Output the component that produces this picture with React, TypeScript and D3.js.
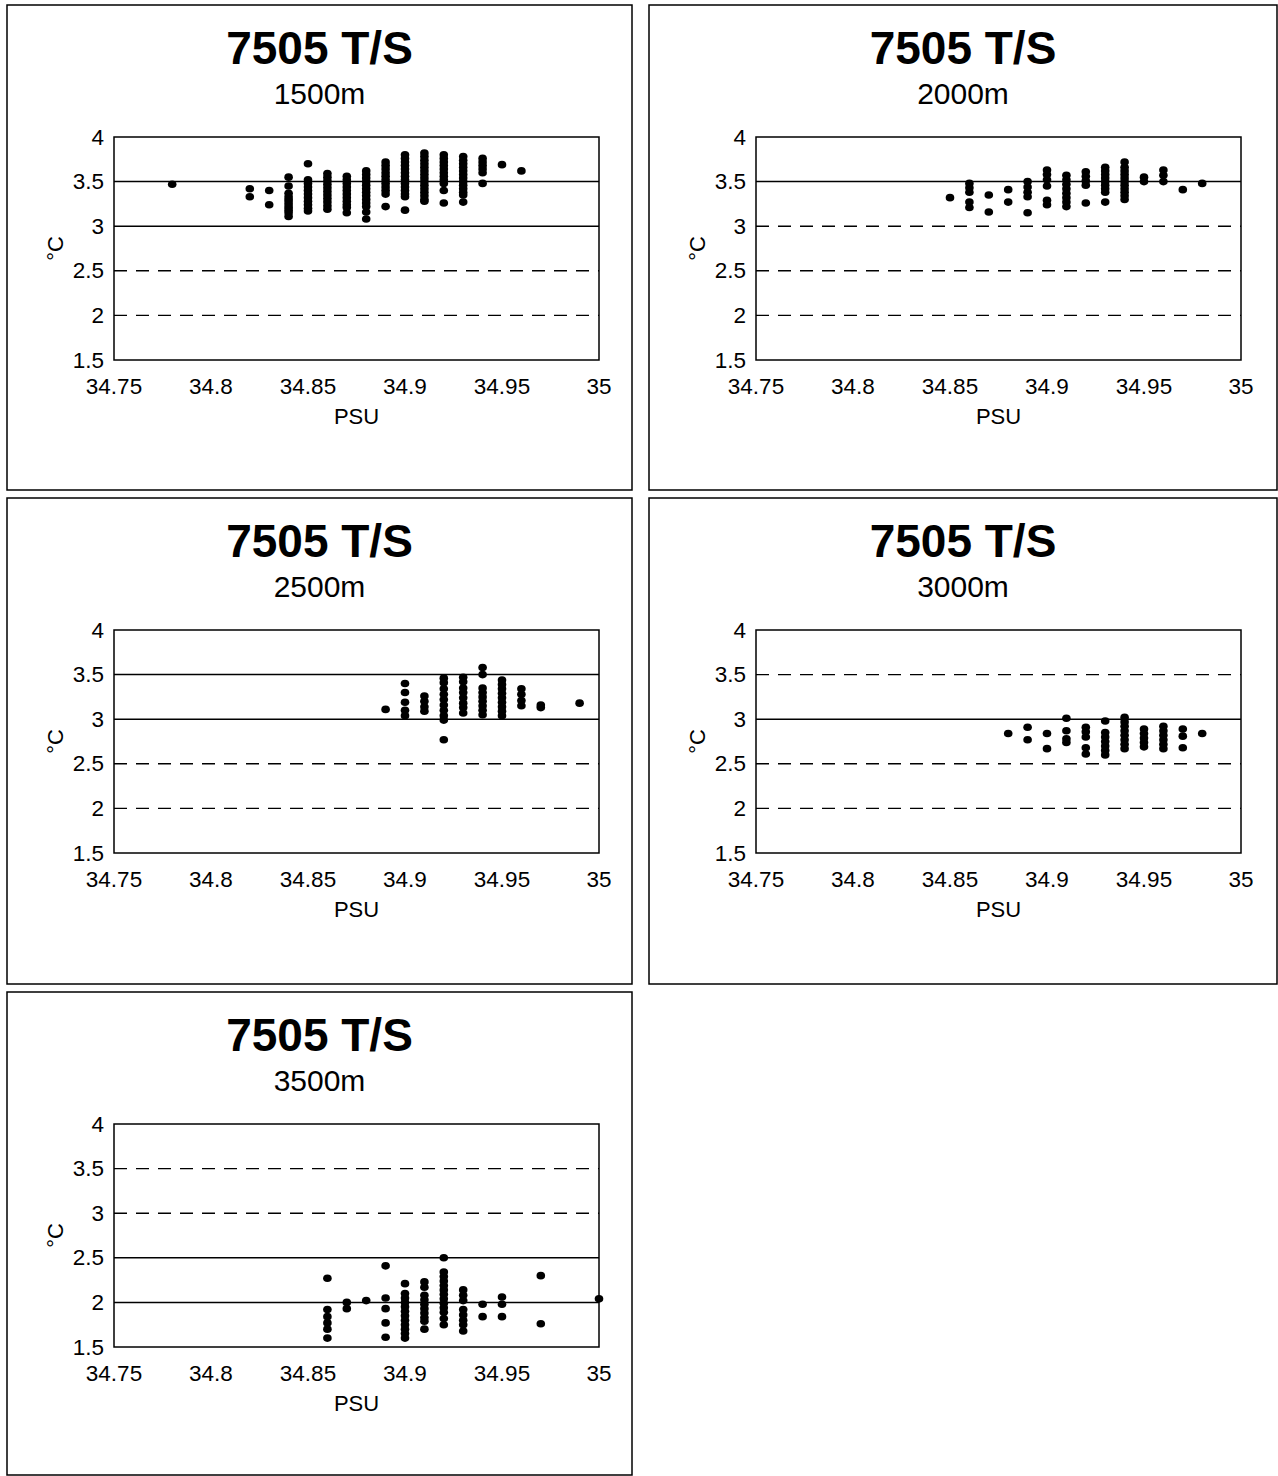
import { useEffect, useRef } from "react";
import * as d3 from "d3";

// Each panel: [salinity PSU, temperature °C] points
const depth1500: [number, number][] = [
  [34.78, 3.47],
  [34.82, 3.42], [34.82, 3.33],
  [34.83, 3.4], [34.83, 3.24],
  [34.84, 3.55], [34.84, 3.45], [34.84, 3.37], [34.84, 3.33], [34.84, 3.3], [34.84, 3.27], [34.84, 3.24], [34.84, 3.21], [34.84, 3.18], [34.84, 3.15], [34.84, 3.11],
  [34.85, 3.7], [34.85, 3.52], [34.85, 3.48], [34.85, 3.44], [34.85, 3.4], [34.85, 3.36], [34.85, 3.32], [34.85, 3.28], [34.85, 3.24], [34.85, 3.2], [34.85, 3.17],
  [34.86, 3.59], [34.86, 3.55], [34.86, 3.51], [34.86, 3.47], [34.86, 3.43], [34.86, 3.39], [34.86, 3.35], [34.86, 3.31], [34.86, 3.27], [34.86, 3.23], [34.86, 3.19],
  [34.87, 3.56], [34.87, 3.52], [34.87, 3.48], [34.87, 3.44], [34.87, 3.4], [34.87, 3.36], [34.87, 3.32], [34.87, 3.28], [34.87, 3.24], [34.87, 3.21], [34.87, 3.15],
  [34.88, 3.62], [34.88, 3.58], [34.88, 3.54], [34.88, 3.5], [34.88, 3.46], [34.88, 3.42], [34.88, 3.38], [34.88, 3.34], [34.88, 3.3], [34.88, 3.26], [34.88, 3.22], [34.88, 3.16], [34.88, 3.08],
  [34.89, 3.72], [34.89, 3.68], [34.89, 3.64], [34.89, 3.6], [34.89, 3.56], [34.89, 3.52], [34.89, 3.48], [34.89, 3.44], [34.89, 3.4], [34.89, 3.36], [34.89, 3.22],
  [34.9, 3.8], [34.9, 3.76], [34.9, 3.72], [34.9, 3.68], [34.9, 3.64], [34.9, 3.6], [34.9, 3.56], [34.9, 3.52], [34.9, 3.48], [34.9, 3.44], [34.9, 3.4], [34.9, 3.36], [34.9, 3.33], [34.9, 3.18],
  [34.91, 3.82], [34.91, 3.78], [34.91, 3.74], [34.91, 3.7], [34.91, 3.66], [34.91, 3.62], [34.91, 3.58], [34.91, 3.54], [34.91, 3.5], [34.91, 3.46], [34.91, 3.42], [34.91, 3.38], [34.91, 3.34], [34.91, 3.3], [34.91, 3.28],
  [34.92, 3.8], [34.92, 3.76], [34.92, 3.72], [34.92, 3.68], [34.92, 3.64], [34.92, 3.6], [34.92, 3.56], [34.92, 3.52], [34.92, 3.48], [34.92, 3.4], [34.92, 3.26],
  [34.93, 3.78], [34.93, 3.74], [34.93, 3.7], [34.93, 3.66], [34.93, 3.62], [34.93, 3.58], [34.93, 3.54], [34.93, 3.5], [34.93, 3.46], [34.93, 3.42], [34.93, 3.38], [34.93, 3.35], [34.93, 3.27],
  [34.94, 3.76], [34.94, 3.72], [34.94, 3.68], [34.94, 3.64], [34.94, 3.6], [34.94, 3.48],
  [34.95, 3.69],
  [34.96, 3.62],
];

const depth2000: [number, number][] = [
  [34.85, 3.32],
  [34.86, 3.48], [34.86, 3.43], [34.86, 3.38], [34.86, 3.27], [34.86, 3.21],
  [34.87, 3.35], [34.87, 3.16],
  [34.88, 3.41], [34.88, 3.27],
  [34.89, 3.5], [34.89, 3.44], [34.89, 3.38], [34.89, 3.33], [34.89, 3.15],
  [34.9, 3.63], [34.9, 3.58], [34.9, 3.52], [34.9, 3.45], [34.9, 3.29], [34.9, 3.24],
  [34.91, 3.57], [34.91, 3.52], [34.91, 3.47], [34.91, 3.42], [34.91, 3.37], [34.91, 3.32], [34.91, 3.27], [34.91, 3.22],
  [34.92, 3.61], [34.92, 3.56], [34.92, 3.51], [34.92, 3.46], [34.92, 3.26],
  [34.93, 3.66], [34.93, 3.62], [34.93, 3.58], [34.93, 3.54], [34.93, 3.5], [34.93, 3.46], [34.93, 3.42], [34.93, 3.38], [34.93, 3.27],
  [34.94, 3.72], [34.94, 3.66], [34.94, 3.62], [34.94, 3.58], [34.94, 3.54], [34.94, 3.5], [34.94, 3.46], [34.94, 3.42], [34.94, 3.38], [34.94, 3.34], [34.94, 3.3],
  [34.95, 3.55], [34.95, 3.5],
  [34.96, 3.63], [34.96, 3.57], [34.96, 3.5],
  [34.97, 3.41],
  [34.98, 3.48],
];

const depth2500: [number, number][] = [
  [34.89, 3.11],
  [34.9, 3.4], [34.9, 3.3], [34.9, 3.19], [34.9, 3.1], [34.9, 3.04],
  [34.91, 3.26], [34.91, 3.2], [34.91, 3.14], [34.91, 3.09],
  [34.92, 3.46], [34.92, 3.41], [34.92, 3.34], [34.92, 3.28], [34.92, 3.22], [34.92, 3.16], [34.92, 3.1], [34.92, 3.04], [34.92, 2.99], [34.92, 2.77],
  [34.93, 3.47], [34.93, 3.42], [34.93, 3.35], [34.93, 3.3], [34.93, 3.24], [34.93, 3.18], [34.93, 3.13], [34.93, 3.07],
  [34.94, 3.58], [34.94, 3.5], [34.94, 3.35], [34.94, 3.3], [34.94, 3.25], [34.94, 3.2], [34.94, 3.15], [34.94, 3.1], [34.94, 3.05],
  [34.95, 3.44], [34.95, 3.39], [34.95, 3.34], [34.95, 3.29], [34.95, 3.24], [34.95, 3.19], [34.95, 3.14], [34.95, 3.09], [34.95, 3.04],
  [34.96, 3.34], [34.96, 3.28], [34.96, 3.21], [34.96, 3.15],
  [34.97, 3.16], [34.97, 3.13],
  [34.99, 3.18],
];

const depth3000: [number, number][] = [
  [34.88, 2.84],
  [34.89, 2.91], [34.89, 2.77],
  [34.9, 2.84], [34.9, 2.67],
  [34.91, 3.01], [34.91, 2.87], [34.91, 2.78], [34.91, 2.74],
  [34.92, 2.91], [34.92, 2.86], [34.92, 2.8], [34.92, 2.68], [34.92, 2.61],
  [34.93, 2.98], [34.93, 2.85], [34.93, 2.8], [34.93, 2.75], [34.93, 2.7], [34.93, 2.65], [34.93, 2.6],
  [34.94, 3.02], [34.94, 2.97], [34.94, 2.92], [34.94, 2.87], [34.94, 2.82], [34.94, 2.77], [34.94, 2.72], [34.94, 2.67],
  [34.95, 2.89], [34.95, 2.84], [34.95, 2.79], [34.95, 2.74], [34.95, 2.69],
  [34.96, 2.92], [34.96, 2.87], [34.96, 2.82], [34.96, 2.77], [34.96, 2.72], [34.96, 2.67],
  [34.97, 2.89], [34.97, 2.81], [34.97, 2.68],
  [34.98, 2.84],
];

const depth3500: [number, number][] = [
  [34.86, 2.27], [34.86, 1.92], [34.86, 1.84], [34.86, 1.77], [34.86, 1.7], [34.86, 1.6],
  [34.87, 2.0], [34.87, 1.93],
  [34.88, 2.02],
  [34.89, 2.41], [34.89, 2.05], [34.89, 1.93], [34.89, 1.77], [34.89, 1.61],
  [34.9, 2.21], [34.9, 2.1], [34.9, 2.05], [34.9, 2.0], [34.9, 1.95], [34.9, 1.9], [34.9, 1.85], [34.9, 1.8], [34.9, 1.75], [34.9, 1.7], [34.9, 1.65], [34.9, 1.6],
  [34.91, 2.23], [34.91, 2.17], [34.91, 2.08], [34.91, 2.03], [34.91, 1.98], [34.91, 1.93], [34.91, 1.88], [34.91, 1.83], [34.91, 1.79], [34.91, 1.7],
  [34.92, 2.5], [34.92, 2.34], [34.92, 2.29], [34.92, 2.24], [34.92, 2.19], [34.92, 2.14], [34.92, 2.09], [34.92, 2.04], [34.92, 1.99], [34.92, 1.94], [34.92, 1.89], [34.92, 1.82], [34.92, 1.75],
  [34.93, 2.14], [34.93, 2.08], [34.93, 2.02], [34.93, 1.92], [34.93, 1.86], [34.93, 1.8], [34.93, 1.75], [34.93, 1.68],
  [34.94, 1.98], [34.94, 1.84],
  [34.95, 2.06], [34.95, 1.98], [34.95, 1.84],
  [34.97, 2.3], [34.97, 1.76],
  [35.0, 2.04],
];

const depthLabels = ["1500m", "2000m", "2500m", "3000m", "3500m"];
const depthData = [depth1500, depth2000, depth2500, depth3000, depth3500];
// gridlines drawn solid in each panel (others dashed)
const solidLevels = [[3.5, 3], [3.5], [3.5, 3], [3], [2.5, 2]];

const xTicks = [34.75, 34.8, 34.85, 34.9, 34.95, 35];
const yTicks = [1.5, 2, 2.5, 3, 3.5, 4];
const gridLevels = [2, 2.5, 3, 3.5];

const W = 1278;
const H = 1476;
const PANEL_POS = [
  { x: 7, y: 5, w: 625, h: 485 },
  { x: 649, y: 5, w: 628, h: 485 },
  { x: 7, y: 498, w: 625, h: 486 },
  { x: 649, y: 498, w: 628, h: 486 },
  { x: 7, y: 992, w: 625, h: 483 },
];
const PLOT = { left: 107, top: 132, width: 485, height: 223 };
const FONT = "'Liberation Sans', Arial, sans-serif";

export default function App() {
  const svgRef = useRef<SVGSVGElement>(null);

  useEffect(() => {
    const svg = d3.select(svgRef.current);
    svg.selectAll("*").remove();

    svg.append("rect").attr("width", W).attr("height", H).attr("fill", "#ffffff");

    const xScale = d3.scaleLinear().domain([34.75, 35]).range([0, PLOT.width]);
    const yScale = d3.scaleLinear().domain([1.5, 4]).range([PLOT.height, 0]);

    depthData.forEach((pts, i) => {
      const p = PANEL_POS[i];
      const panel = svg.append("g").attr("transform", `translate(${p.x},${p.y})`);

      // Panel frame
      panel.append("rect")
        .attr("width", p.w)
        .attr("height", p.h)
        .attr("fill", "none")
        .attr("stroke", "#000")
        .attr("stroke-width", 1.5);

      // Titles
      panel.append("text")
        .attr("x", p.w / 2)
        .attr("y", 59)
        .attr("text-anchor", "middle")
        .attr("font-family", FONT)
        .attr("font-weight", "bold")
        .attr("font-size", "46px")
        .text("7505 T/S");

      panel.append("text")
        .attr("x", p.w / 2)
        .attr("y", 99)
        .attr("text-anchor", "middle")
        .attr("font-family", FONT)
        .attr("font-size", "30px")
        .text(depthLabels[i]);

      const g = panel.append("g").attr("transform", `translate(${PLOT.left},${PLOT.top})`);

      // Gridlines
      gridLevels.forEach((lv) => {
        const solid = solidLevels[i].includes(lv);
        g.append("line")
          .attr("x1", 0)
          .attr("x2", PLOT.width)
          .attr("y1", yScale(lv))
          .attr("y2", yScale(lv))
          .attr("stroke", "#000")
          .attr("stroke-width", solid ? 1.5 : 1.4)
          .attr("stroke-dasharray", solid ? null : "13,9");
      });

      // Plot frame
      g.append("rect")
        .attr("width", PLOT.width)
        .attr("height", PLOT.height)
        .attr("fill", "none")
        .attr("stroke", "#000")
        .attr("stroke-width", 1.5);

      // Points
      g.selectAll("ellipse.pt")
        .data(pts)
        .enter()
        .append("ellipse")
        .attr("class", "pt")
        .attr("cx", (d) => xScale(d[0]))
        .attr("cy", (d) => yScale(d[1]))
        .attr("rx", 4.3)
        .attr("ry", 3.8)
        .attr("fill", "#000");

      // X tick labels
      xTicks.forEach((t) => {
        g.append("text")
          .attr("x", xScale(t))
          .attr("y", PLOT.height + 34)
          .attr("text-anchor", "middle")
          .attr("font-family", FONT)
          .attr("font-size", "22.5px")
          .text(String(t));
      });

      // Y tick labels
      yTicks.forEach((t) => {
        g.append("text")
          .attr("x", -10)
          .attr("y", yScale(t))
          .attr("text-anchor", "end")
          .attr("dominant-baseline", "central")
          .attr("font-family", FONT)
          .attr("font-size", "22.5px")
          .text(String(t));
      });

      g.append("text")
        .attr("x", PLOT.width / 2)
        .attr("y", PLOT.height + 64)
        .attr("text-anchor", "middle")
        .attr("font-family", FONT)
        .attr("font-size", "22px")
        .text("PSU");

      g.append("text")
        .attr("transform", `translate(-59,${PLOT.height / 2}) rotate(-90)`)
        .attr("text-anchor", "middle")
        .attr("dominant-baseline", "central")
        .attr("font-family", FONT)
        .attr("font-size", "22px")
        .text("°C");
    });
  }, []);

  return (
    <svg
      ref={svgRef}
      width={W}
      height={H}
      style={{ position: "absolute", left: 0, top: 0 }}
    />
  );
}
